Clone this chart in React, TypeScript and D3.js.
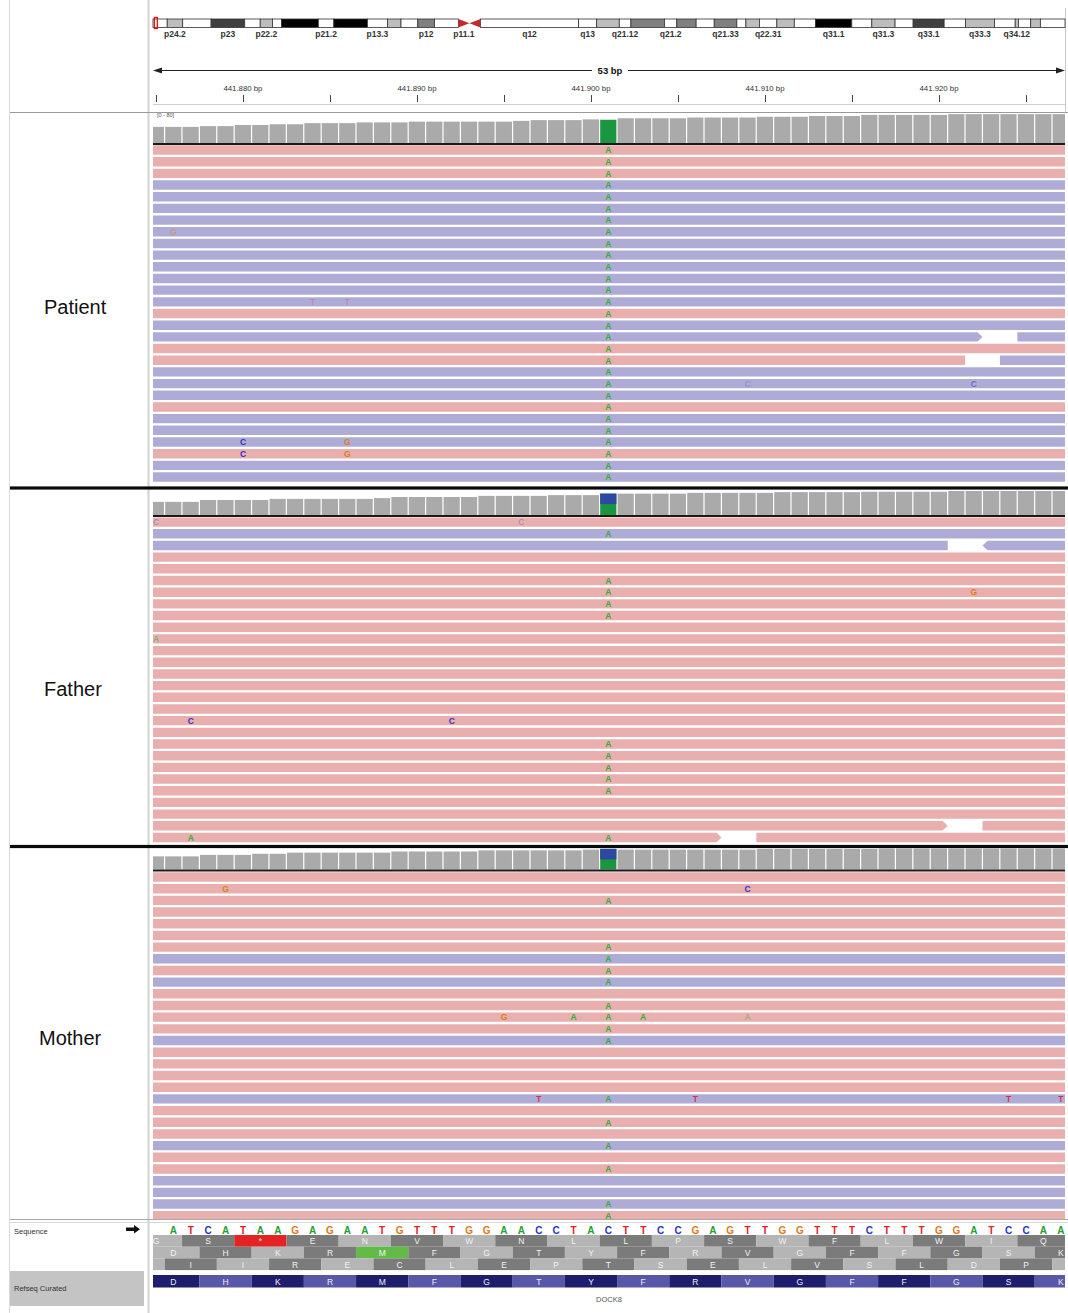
import React, { useEffect, useRef } from 'react';
import * as d3 from 'd3';

const W = 1068;
const H = 1313;

// chromosome 9 ideogram (hg19, Mb)
const BAND_NAMES = ['p24.3', 'p24.2', 'p24.1', 'p23', 'p22.3', 'p22.2', 'p22.1', 'p21.3', 'p21.2', 'p21.1', 'p13.3', 'p13.2', 'p13.1', 'p12', 'p11.2', 'p11.1', 'q11', 'q12', 'q13', 'q21.11', 'q21.12', 'q21.13', 'q21.2', 'q21.31', 'q21.32', 'q21.33', 'q22.1', 'q22.2', 'q22.31', 'q22.32', 'q22.33', 'q31.1', 'q31.2', 'q31.3', 'q32', 'q33.1', 'q33.2', 'q33.3', 'q34.11', 'q34.12', 'q34.13', 'q34.2', 'q34.3'];
const BAND_START = [0, 2.2, 4.6, 9.0, 14.2, 16.6, 18.5, 19.9, 25.6, 28.0, 33.2, 36.3, 38.4, 41.0, 43.6, 47.3, 49.0, 50.7, 65.9, 68.7, 72.2, 74.0, 79.2, 81.1, 84.1, 86.9, 90.4, 91.8, 93.9, 96.6, 99.3, 102.6, 108.2, 111.3, 114.9, 117.7, 122.5, 125.8, 130.3, 133.5, 134.0, 135.9, 137.4];
const BAND_END = [2.2, 4.6, 9.0, 14.2, 16.6, 18.5, 19.9, 25.6, 28.0, 33.2, 36.3, 38.4, 41.0, 43.6, 47.3, 49.0, 50.7, 65.9, 68.7, 72.2, 74.0, 79.2, 81.1, 84.1, 86.9, 90.4, 91.8, 93.9, 96.6, 99.3, 102.6, 108.2, 111.3, 114.9, 117.7, 122.5, 125.8, 130.3, 133.5, 134.0, 135.9, 137.4, 141.213];
const BAND_STAIN = ['gneg', 'gpos25', 'gneg', 'gpos75', 'gneg', 'gpos25', 'gneg', 'gpos100', 'gneg', 'gpos100', 'gneg', 'gpos25', 'gneg', 'gpos50', 'gneg', 'acen', 'acen', 'gvar', 'gneg', 'gpos25', 'gneg', 'gpos50', 'gneg', 'gpos50', 'gneg', 'gpos50', 'gneg', 'gpos25', 'gneg', 'gpos25', 'gneg', 'gpos100', 'gneg', 'gpos25', 'gneg', 'gpos75', 'gneg', 'gpos25', 'gneg', 'gpos25', 'gneg', 'gpos25', 'gneg'];
const BAND_LABELS = ['p24.2', 'p23', 'p22.2', 'p21.2', 'p13.3', 'p12', 'p11.1', 'q12', 'q13', 'q21.12', 'q21.2', 'q21.33', 'q22.31', 'q31.1', 'q31.3', 'q33.1', 'q33.3', 'q34.12'];

// ruler
const RULER_TICKS = [441875, 441880, 441885, 441890, 441895, 441900, 441905, 441910, 441915, 441920, 441925];
const RULER_LABELS = [441880, 441890, 441900, 441910, 441920];
const SPAN_LABEL = '53 bp';

// reference
const SEQ_START = 441876;
const SEQUENCE = 'ATCATAAGAGAATGTTTGGAACCTACTTCCGAGTTGGTTTCTTTGGATCCAA';
const VARIANT_POS = 441901;

const FRAME1_START = 441874;
const FRAME1 = ['G', 'S', '*', 'E', 'N', 'V', 'W', 'N', 'L', 'L', 'P', 'S', 'W', 'F', 'L', 'W', 'I', 'Q'];
const FRAME2_START = 441875;
const FRAME2 = ['D', 'H', 'K', 'R', 'M', 'F', 'G', 'T', 'Y', 'F', 'R', 'V', 'G', 'F', 'F', 'G', 'S', 'K'];
const FRAME3_START = 441873;
const FRAME3 = ['', 'I', 'I', 'R', 'E', 'C', 'L', 'E', 'P', 'T', 'S', 'E', 'L', 'V', 'S', 'L', 'D', 'P', ''];
const REFSEQ_START = 441875;
const REFSEQ_AA = ['D', 'H', 'K', 'R', 'M', 'F', 'G', 'T', 'Y', 'F', 'R', 'V', 'G', 'F', 'F', 'G', 'S', 'K'];
const GENE_NAME = 'DOCK8';

// coverage, one value per base from COV_START
const COV_START = 441875;
const PATIENT_COV = [43, 43, 43, 45, 45, 48, 48, 50, 50, 53, 53, 53, 55, 55, 55, 57, 57, 57, 57, 57, 57, 59, 61, 61, 61, 63, 62, 66, 66, 66, 66, 68, 68, 68, 68, 70, 70, 70, 72, 72, 72, 75, 75, 75, 75, 75, 77, 77, 77, 77, 77, 77, 77];
const FATHER_COV = [35, 35, 35, 40, 40, 40, 40, 43, 43, 43, 43, 43, 43, 45, 48, 48, 48, 48, 48, 51, 51, 51, 51, 53, 53, 53, 57, 57, 57, 57, 57, 59, 59, 59, 59, 59, 61, 61, 61, 61, 61, 62, 62, 62, 62, 62, 64, 64, 64, 64, 64, 64, 64];
const MOTHER_COV = [35, 35, 35, 39, 39, 39, 42, 42, 45, 45, 45, 45, 45, 45, 48, 48, 48, 48, 48, 51, 51, 51, 51, 51, 51, 53, 55, 53, 53, 53, 53, 53, 53, 53, 53, 55, 55, 55, 55, 55, 55, 55, 56, 56, 56, 56, 56, 56, 56, 56, 56, 56, 56];
const PATIENT_ALT_A = 62;
const FATHER_ALT_A = 29;
const MOTHER_ALT_A = 27;

// reads: F = forward (pink), R = reverse (blue)
const PATIENT_STRANDS = 'FFFRRRRRRRRRRRFRRFFRRRFRRRFRR';
const FATHER_STRANDS = 'FRRFFFFFFFFFFFFFFFFFFFFFFFFF';
const MOTHER_STRANDS = 'FFFFFFFRFRFFFFRFFFFRFFFRFFRRRF';

// rows carrying the A allele at the variant
const PATIENT_ALT_ROWS = [0, 1, 2, 3, 4, 5, 6, 7, 8, 9, 10, 11, 12, 13, 14, 15, 16, 17, 18, 19, 20, 21, 22, 23, 24, 25, 26, 27, 28];
const FATHER_ALT_ROWS = [1, 5, 6, 7, 8, 19, 20, 21, 22, 23, 27];
const MOTHER_ALT_ROWS = [2, 6, 7, 8, 9, 11, 12, 13, 14, 19, 21, 23, 25, 28, 29];

// other mismatches: [row, position, base, opacity]
const PATIENT_MISMATCHES = [[7, 441876, 'G', 0.45], [13, 441884, 'T', 0.25], [13, 441886, 'T', 0.25], [20, 441909, 'C', 0.25], [20, 441922, 'C', 0.55], [25, 441880, 'C', 1], [25, 441886, 'G', 1], [26, 441880, 'C', 1], [26, 441886, 'G', 1]];
const FATHER_MISMATCHES = [[0, 441875, 'C', 0.3], [0, 441896, 'C', 0.3], [6, 441922, 'G', 1], [10, 441875, 'A', 0.5], [17, 441877, 'C', 1], [17, 441892, 'C', 1], [27, 441877, 'A', 1]];
const MOTHER_MISMATCHES = [[1, 441879, 'G', 1], [1, 441909, 'C', 1], [12, 441895, 'G', 1], [12, 441899, 'A', 1], [12, 441903, 'A', 1], [12, 441909, 'A', 0.4], [19, 441897, 'T', 1], [19, 441906, 'T', 1], [19, 441924, 'T', 1], [19, 441927, 'T', 1]];

// gaps between reads on a row: [row, first base, last base, strand after, arrow]
const PATIENT_GAPS = [[16, 441923, 441924, 'R', 'end'], [18, 441922, 441923, 'R', '']];
const FATHER_GAPS = [[2, 441921, 441922, 'R', 'start'], [26, 441921, 441922, 'F', 'end'], [27, 441908, 441909, 'F', 'end']];
const MOTHER_GAPS = [];

const BASE_COLORS = { A: '#2fb030', C: '#3030c8', G: '#d8801a', T: '#d83048' };
const SEQ_COLORS = { A: '#22a030', C: '#2a34c0', G: '#e07a18', T: '#e42028' };
const STAIN_COLORS = { gneg: '#ffffff', gvar: '#ffffff', gpos25: '#bdbdbd', gpos50: '#808080', gpos75: '#404040', gpos100: '#000000' };
const FONT = '"Liberation Sans", Arial, Helvetica, sans-serif';

const App = () => {
    const ref = useRef<SVGSVGElement>(null);

    useEffect(() => {
        const svg = d3.select(ref.current);
        svg.selectAll('*').remove();

        const left = 153;
        const right = 1065;
        const x = d3.scaleLinear().domain([441874.83, 441927.24]).range([left, right]);
        const bw = x(COV_START + 1) - x(COV_START);

        svg.append('rect').attr('width', W).attr('height', H).attr('fill', '#ffffff');

        svg.append('defs').append('clipPath')
            .attr('id', 'dataClip')
            .append('rect')
            .attr('x', left).attr('y', 0)
            .attr('width', right - left).attr('height', 1219);

        // panel lines
        svg.append('line').attr('x1', 9.5).attr('x2', 9.5).attr('y1', 0).attr('y2', H)
            .attr('stroke', '#dadada');
        svg.append('line').attr('x1', 148.5).attr('x2', 148.5).attr('y1', 0).attr('y2', H)
            .attr('stroke', '#d2d2d2').attr('stroke-width', 2);
        svg.append('line').attr('x1', 1065.5).attr('x2', 1065.5).attr('y1', 8).attr('y2', 112)
            .attr('stroke', '#c8c8c8');

        // ideogram
        const ix = d3.scaleLinear().domain([0, 141.213]).range([left, right]);
        const ideo = svg.append('g');
        const iTop = 19;
        const iBot = 27.5;
        BAND_NAMES.forEach((name, i) => {
            const x0 = ix(BAND_START[i]);
            const x1 = ix(BAND_END[i]);
            const stain = BAND_STAIN[i];
            if (stain === 'acen') {
                const pts = name.startsWith('p')
                    ? [[x0, iTop], [x0, iBot], [x1, (iTop + iBot) / 2]]
                    : [[x1, iTop], [x1, iBot], [x0, (iTop + iBot) / 2]];
                ideo.append('path')
                    .attr('d', d3.line()(pts as [number, number][]) + 'Z')
                    .attr('fill', '#c42a2e');
            } else {
                ideo.append('rect')
                    .attr('x', x0).attr('y', iTop)
                    .attr('width', x1 - x0).attr('height', iBot - iTop)
                    .attr('fill', STAIN_COLORS[stain])
                    .attr('stroke', '#333').attr('stroke-width', 0.8);
            }
        });
        ideo.selectAll('text')
            .data(BAND_LABELS)
            .enter()
            .append('text')
            .attr('x', d => {
                const i = BAND_NAMES.indexOf(d);
                return ix((BAND_START[i] + BAND_END[i]) / 2);
            })
            .attr('y', 37)
            .attr('text-anchor', 'middle')
            .attr('font-family', FONT)
            .attr('font-size', 8.5)
            .attr('font-weight', 'bold')
            .attr('fill', '#333')
            .text(d => d);
        ideo.append('rect')
            .attr('x', ix(0.44) - 1.5).attr('y', 17.5)
            .attr('width', 3).attr('height', 11)
            .attr('fill', 'none').attr('stroke', '#e01010').attr('stroke-width', 1.3);

        // ruler
        const ruler = svg.append('g');
        const ay = 70.5;
        ruler.append('line').attr('x1', left + 4).attr('x2', 592).attr('y1', ay).attr('y2', ay)
            .attr('stroke', '#222');
        ruler.append('line').attr('x1', 628).attr('x2', right - 4).attr('y1', ay).attr('y2', ay)
            .attr('stroke', '#222');
        ruler.append('path').attr('d', `M${left},${ay} L${left + 9},${ay - 3} L${left + 9},${ay + 3} Z`).attr('fill', '#222');
        ruler.append('path').attr('d', `M${right},${ay} L${right - 9},${ay - 3} L${right - 9},${ay + 3} Z`).attr('fill', '#222');
        ruler.append('text')
            .attr('x', (left + right) / 2 + 1).attr('y', ay + 3.5)
            .attr('text-anchor', 'middle')
            .attr('font-family', FONT).attr('font-size', 9.5).attr('font-weight', 'bold')
            .attr('fill', '#111')
            .text(SPAN_LABEL);
        ruler.selectAll('line.tick')
            .data(RULER_TICKS)
            .enter()
            .append('line')
            .attr('class', 'tick')
            .attr('x1', d => Math.round(x(d)) + 0.5).attr('x2', d => Math.round(x(d)) + 0.5)
            .attr('y1', 95).attr('y2', 102)
            .attr('stroke', '#444');
        ruler.selectAll('text.lbl')
            .data(RULER_LABELS)
            .enter()
            .append('text')
            .attr('class', 'lbl')
            .attr('x', d => x(d))
            .attr('y', 91)
            .attr('text-anchor', 'middle')
            .attr('font-family', FONT).attr('font-size', 7.8)
            .attr('fill', '#333')
            .text(d => d3.format(',')(d).replace(',', '.') + ' bp');
        svg.append('line').attr('x1', left).attr('x2', right).attr('y1', 104.5).attr('y2', 104.5)
            .attr('stroke', '#cfcfcf');
        svg.append('line').attr('x1', 10).attr('x2', W).attr('y1', 112.5).attr('y2', 112.5)
            .attr('stroke', '#9a9a9a').attr('stroke-width', 1.2);

        // sections
        const sections = [
            { name: 'Patient', labelX: 44, labelY: 307, covTop: 113, covBase: 143, rowTop: 145.3, cov: PATIENT_COV, altA: PATIENT_ALT_A, strands: PATIENT_STRANDS, altRows: PATIENT_ALT_ROWS, mism: PATIENT_MISMATCHES, gaps: PATIENT_GAPS, rangeLabel: true },
            { name: 'Father', labelX: 44, labelY: 689, covTop: 490, covBase: 515, rowTop: 517.4, cov: FATHER_COV, altA: FATHER_ALT_A, strands: FATHER_STRANDS, altRows: FATHER_ALT_ROWS, mism: FATHER_MISMATCHES, gaps: FATHER_GAPS, rangeLabel: false },
            { name: 'Mother', labelX: 39, labelY: 1038, covTop: 849, covBase: 869.5, rowTop: 872.3, cov: MOTHER_COV, altA: MOTHER_ALT_A, strands: MOTHER_STRANDS, altRows: MOTHER_ALT_ROWS, mism: MOTHER_MISMATCHES, gaps: MOTHER_GAPS, rangeLabel: false }
        ];
        const pitch = 11.68;
        const barH = 9.4;
        const covH = d3.scaleLinear().domain([0, 80]).range([0, 30]);
        const readFill = { F: '#e9aeae', R: '#aeacd6' };

        sections.forEach(sec => {
            svg.append('text')
                .attr('x', sec.labelX).attr('y', sec.labelY)
                .attr('dominant-baseline', 'central')
                .attr('font-family', FONT).attr('font-size', 20)
                .attr('fill', '#111')
                .text(sec.name);

            const g = svg.append('g').attr('clip-path', 'url(#dataClip)');

            // coverage
            const covGroup = g.append('g');
            covGroup.selectAll('rect')
                .data(sec.cov)
                .enter()
                .append('rect')
                .attr('x', (d, i) => x(COV_START + i - 0.5) + 0.5)
                .attr('width', bw - 1.2)
                .attr('y', d => sec.covBase - covH(d))
                .attr('height', d => covH(d))
                .attr('fill', (d, i) => COV_START + i === VARIANT_POS ? '#1a9640' : '#a9aaa9');
            const vi = VARIANT_POS - COV_START;
            const refCount = sec.cov[vi] - sec.altA;
            if (refCount > 0) {
                covGroup.append('rect')
                    .attr('x', x(VARIANT_POS - 0.5) + 0.5)
                    .attr('width', bw - 1.2)
                    .attr('y', sec.covBase - covH(sec.cov[vi]))
                    .attr('height', covH(refCount))
                    .attr('fill', '#2c48a0');
            }
            if (sec.rangeLabel) {
                covGroup.append('text')
                    .attr('x', left + 4).attr('y', sec.covTop + 4)
                    .attr('font-family', FONT).attr('font-size', 5.5)
                    .attr('fill', '#555')
                    .text('[0 - 80]');
            }
            g.append('rect')
                .attr('x', left).attr('y', sec.covBase)
                .attr('width', right - left).attr('height', 2)
                .attr('fill', '#1a1a1a');

            // reads
            const segs = [];
            sec.strands.split('').forEach((s, r) => {
                const top = sec.rowTop + r * pitch;
                const gap = sec.gaps.find(gp => gp[0] === r);
                if (!gap) {
                    segs.push({ x0: left - 5, x1: right + 5, top, s, arrow: '' });
                } else {
                    segs.push({ x0: left - 5, x1: x(gap[1] - 0.5), top, s, arrow: gap[4] === 'end' ? 'end' : '' });
                    segs.push({ x0: x(gap[2] + 0.5), x1: right + 5, top, s: gap[3], arrow: gap[4] === 'start' ? 'start' : '' });
                }
            });
            g.append('g').selectAll('path')
                .data(segs)
                .enter()
                .append('path')
                .attr('d', d => {
                    const t = d.top;
                    const b = d.top + barH;
                    const m = (t + b) / 2;
                    if (d.arrow === 'end') {
                        return `M${d.x0},${t} L${d.x1 - 5},${t} L${d.x1},${m} L${d.x1 - 5},${b} L${d.x0},${b} Z`;
                    }
                    if (d.arrow === 'start') {
                        return `M${d.x0 + 5},${t} L${d.x1},${t} L${d.x1},${b} L${d.x0 + 5},${b} L${d.x0},${m} Z`;
                    }
                    return `M${d.x0},${t} L${d.x1},${t} L${d.x1},${b} L${d.x0},${b} Z`;
                })
                .attr('fill', d => readFill[d.s]);

            // mismatches
            const letters = sec.altRows.map(r => [r, VARIANT_POS, 'A', 1]).concat(sec.mism);
            g.append('g').selectAll('text')
                .data(letters)
                .enter()
                .append('text')
                .attr('x', d => x(d[1]))
                .attr('y', d => sec.rowTop + d[0] * pitch + barH / 2 + 0.3)
                .attr('text-anchor', 'middle')
                .attr('dominant-baseline', 'central')
                .attr('font-family', FONT).attr('font-size', 8.5).attr('font-weight', 'bold')
                .attr('fill', d => BASE_COLORS[d[2]])
                .attr('fill-opacity', d => d[3])
                .text(d => d[2]);
        });

        // section separators
        [488, 846.5].forEach(y => {
            svg.append('rect').attr('x', 10).attr('y', y - 1.6).attr('width', W - 10).attr('height', 3.2)
                .attr('fill', '#0a0a0a');
        });

        // bottom: sequence + genes
        svg.append('line').attr('x1', 10).attr('x2', W).attr('y1', 1219.5).attr('y2', 1219.5)
            .attr('stroke', '#a8a8a8');
        svg.append('line').attr('x1', 10).attr('x2', W).attr('y1', 1222.5).attr('y2', 1222.5)
            .attr('stroke', '#d8d8d8');
        svg.append('text')
            .attr('x', 14).attr('y', 1231)
            .attr('dominant-baseline', 'central')
            .attr('font-family', FONT).attr('font-size', 7.5).attr('fill', '#333')
            .text('Sequence');
        svg.append('path')
            .attr('d', 'M126,1227.6 L134,1227.6 L134,1225 L140,1229.3 L134,1233.6 L134,1231 L126,1231 Z')
            .attr('fill', '#111');

        const bottom = svg.append('g').attr('clip-path', 'url(#bottomClip)');
        svg.select('defs').append('clipPath')
            .attr('id', 'bottomClip')
            .append('rect')
            .attr('x', left).attr('y', 1220).attr('width', right - left).attr('height', 90);

        bottom.selectAll('text.seq')
            .data(SEQUENCE.split(''))
            .enter()
            .append('text')
            .attr('class', 'seq')
            .attr('x', (d, i) => x(SEQ_START + i))
            .attr('y', 1230)
            .attr('text-anchor', 'middle')
            .attr('dominant-baseline', 'central')
            .attr('font-family', FONT).attr('font-size', 10).attr('font-weight', 'bold')
            .attr('fill', d => SEQ_COLORS[d])
            .text(d => d);

        const frames = [
            { aa: FRAME1, start: FRAME1_START, top: 1235 },
            { aa: FRAME2, start: FRAME2_START, top: 1246.7 },
            { aa: FRAME3, start: FRAME3_START, top: 1258.4 }
        ];
        const rowH = 11.7;
        frames.forEach(f => {
            const fg = bottom.append('g');
            fg.selectAll('rect')
                .data(f.aa)
                .enter()
                .append('rect')
                .attr('x', (d, i) => x(f.start + 3 * i - 0.5))
                .attr('width', 3 * bw)
                .attr('y', f.top)
                .attr('height', rowH)
                .attr('fill', (d, i) => d === '*' ? '#e42424' : d === 'M' ? '#62bb46' : (i % 2 ? '#7b7b7b' : '#b5b5b5'));
            fg.selectAll('text')
                .data(f.aa)
                .enter()
                .append('text')
                .attr('x', (d, i) => x(f.start + 3 * i + 1))
                .attr('y', f.top + rowH / 2 + 0.5)
                .attr('text-anchor', 'middle')
                .attr('dominant-baseline', 'central')
                .attr('font-family', FONT).attr('font-size', 8.5)
                .attr('fill', '#f2f2f2')
                .text(d => d);
        });

        // refseq gene
        svg.append('rect')
            .attr('x', 10).attr('y', 1271).attr('width', 134).attr('height', 35)
            .attr('fill', '#c4c4c4');
        svg.append('text')
            .attr('x', 14).attr('y', 1288)
            .attr('dominant-baseline', 'central')
            .attr('font-family', FONT).attr('font-size', 7.5).attr('fill', '#333')
            .text('Refseq Curated');
        const rg = bottom.append('g');
        rg.selectAll('rect')
            .data(REFSEQ_AA)
            .enter()
            .append('rect')
            .attr('x', (d, i) => x(REFSEQ_START + 3 * i - 0.5))
            .attr('width', 3 * bw)
            .attr('y', 1275)
            .attr('height', 12.5)
            .attr('fill', (d, i) => i % 2 ? '#5858a8' : '#1e1e6c');
        rg.selectAll('text')
            .data(REFSEQ_AA)
            .enter()
            .append('text')
            .attr('x', (d, i) => x(REFSEQ_START + 3 * i + 1))
            .attr('y', 1281.5)
            .attr('text-anchor', 'middle')
            .attr('dominant-baseline', 'central')
            .attr('font-family', FONT).attr('font-size', 8.5)
            .attr('fill', '#eeeeee')
            .text(d => d);
        svg.append('text')
            .attr('x', (left + right) / 2).attr('y', 1299)
            .attr('text-anchor', 'middle')
            .attr('dominant-baseline', 'central')
            .attr('font-family', FONT).attr('font-size', 7.5).attr('fill', '#555')
            .text(GENE_NAME);
    }, []);

    return (
        <svg ref={ref} width={W} height={H} style={{ position: 'absolute', left: 0, top: 0, display: 'block' }}></svg>
    );
};

export default App;
